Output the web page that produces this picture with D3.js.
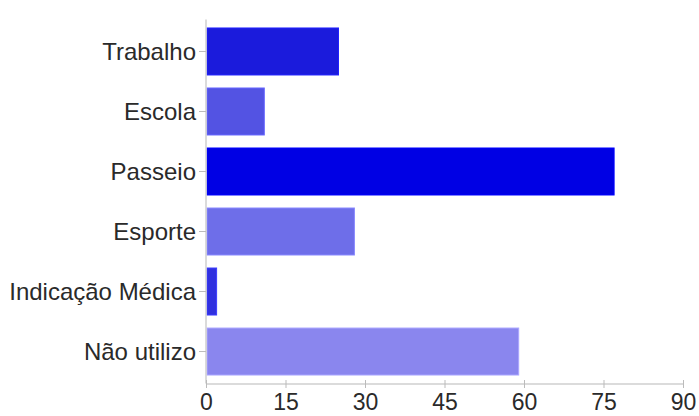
<!DOCTYPE html>
<html>
<head>
<meta charset="utf-8">
<script src="https://cdn.jsdelivr.net/npm/d3@7"></script>
<style>
  html, body { margin: 0; padding: 0; background: #fff; }
  svg { display: block; }
  text { font-family: "Liberation Sans", Arial, Helvetica, sans-serif; }
</style>
</head>
<body>
<svg id="chart" width="699" height="416"></svg>
<script>
const categories = ["Trabalho", "Escola", "Passeio", "Esporte", "Indicação Médica", "Não utilizo"];
const values = [25, 11, 77, 28, 2, 59];
const barColors = ["#1b1bdc", "#5353e3", "#0000e4", "#6e6ee9", "#3030df", "#8a86ee"];
const xTicks = [0, 15, 30, 45, 60, 75, 90];

const svg = d3.select("#chart");
const margin = { left: 206, right: 16, top: 21.5, bottom: 34.5 };
const W = 699, H = 416;

const x = d3.scaleLinear().domain([0, 90]).range([margin.left, W - margin.right]);
const y = d3.scaleBand().domain(categories)
  .range([margin.top, H - margin.bottom])
  .paddingInner(0.217).paddingOuter(0.108);

// bars
svg.append("g").selectAll("rect").data(categories).join("rect")
  .attr("x", x(0) + 1)
  .attr("y", d => y(d))
  .attr("width", (d, i) => x(values[i]) - x(0) - 1)
  .attr("height", y.bandwidth())
  .attr("fill", (d, i) => barColors[i])
  .attr("stroke", (d, i) => d3.color(barColors[i]).brighter(0.6))
  .attr("stroke-width", 1);

// y axis
const yAxis = svg.append("g")
  .attr("transform", `translate(${x(0)},0)`)
  .call(d3.axisLeft(y).tickSize(7).tickPadding(3));
yAxis.select(".domain").attr("stroke", "#cfcfcf").attr("stroke-width", 1.5)
  .attr("d", `M0,${margin.top - 2}V${H - margin.bottom + 2}`);
yAxis.selectAll(".tick line").attr("stroke", "#bbbbbb");
yAxis.selectAll(".tick text")
  .attr("font-size", 24).attr("fill", "#2a2a2a")
  .attr("font-family", "Liberation Sans, Arial, sans-serif")
  .attr("dy", "0.36em");

// x axis
const axisY = 384;
const xAxis = svg.append("g")
  .attr("transform", `translate(0,${axisY})`)
  .call(d3.axisBottom(x).tickValues(xTicks).tickSize(4).tickPadding(6));
xAxis.select(".domain").attr("stroke", "#cfcfcf").attr("stroke-width", 1.5)
  .attr("d", `M${x(0)},0H${x(90)}`);
xAxis.selectAll(".tick line").attr("stroke", "#bbbbbb").attr("y1", -4);
xAxis.selectAll(".tick text")
  .attr("font-size", 23).attr("fill", "#2a2a2a")
  .attr("font-family", "Liberation Sans, Arial, sans-serif");
</script>
</body>
</html>
